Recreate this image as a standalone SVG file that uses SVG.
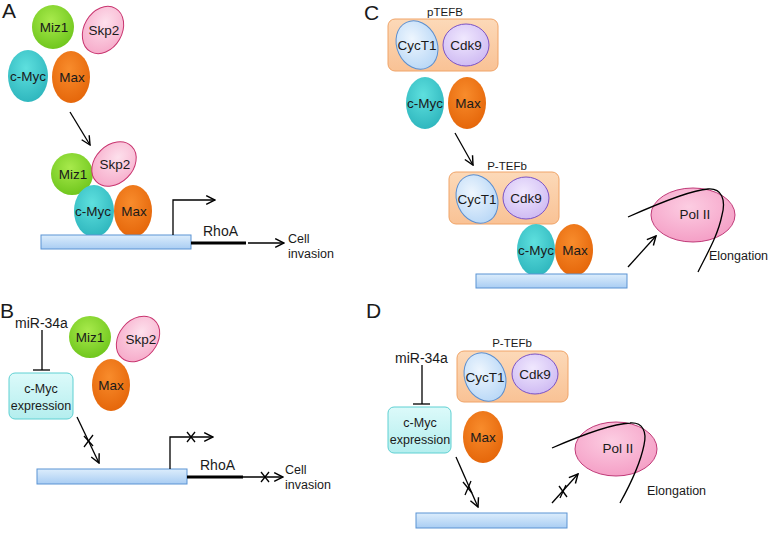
<svg xmlns="http://www.w3.org/2000/svg" width="771" height="535" viewBox="0 0 771 535">
<defs>
<radialGradient id="gMiz" cx="0.45" cy="0.35" r="0.7"><stop offset="0" stop-color="#a8ea4c"/><stop offset="1" stop-color="#6cc41a"/></radialGradient>
<radialGradient id="gSkp" cx="0.45" cy="0.35" r="0.7"><stop offset="0" stop-color="#fde0ec"/><stop offset="1" stop-color="#f6a8c8"/></radialGradient>
<radialGradient id="gMyc" cx="0.45" cy="0.35" r="0.7"><stop offset="0" stop-color="#5ee0de"/><stop offset="1" stop-color="#2cb4bc"/></radialGradient>
<radialGradient id="gMax" cx="0.45" cy="0.35" r="0.7"><stop offset="0" stop-color="#f88c2c"/><stop offset="1" stop-color="#e46408"/></radialGradient>
<radialGradient id="gCyc" cx="0.45" cy="0.35" r="0.7"><stop offset="0" stop-color="#eef6fe"/><stop offset="1" stop-color="#b6d6f6"/></radialGradient>
<radialGradient id="gCdk" cx="0.45" cy="0.35" r="0.7"><stop offset="0" stop-color="#f0e8fe"/><stop offset="1" stop-color="#cdb8f2"/></radialGradient>
<radialGradient id="gPol" cx="0.45" cy="0.35" r="0.7"><stop offset="0" stop-color="#fccde2"/><stop offset="1" stop-color="#f49cc4"/></radialGradient>
<linearGradient id="gDna" x1="0" y1="0" x2="0" y2="1"><stop offset="0" stop-color="#dcedfc"/><stop offset="1" stop-color="#a9cdf3"/></linearGradient>
<linearGradient id="gBox" x1="0" y1="0" x2="0" y2="1"><stop offset="0" stop-color="#fcd9b8"/><stop offset="1" stop-color="#f9c295"/></linearGradient>
<linearGradient id="gExp" x1="0" y1="0" x2="0" y2="1"><stop offset="0" stop-color="#dcfafa"/><stop offset="1" stop-color="#b4eeee"/></linearGradient>
<marker id="ah" viewBox="0 0 10 10" refX="9" refY="5" markerWidth="11" markerHeight="11" orient="auto" markerUnits="userSpaceOnUse"><path d="M1,1 L9,5 L1,9" fill="none" stroke="#000" stroke-width="1.3"/></marker>
<style>
text{font-family:"Liberation Sans",Arial,sans-serif;fill:#1a1a1a}
.p{font-size:13.5px;text-anchor:middle}
.lab{font-size:21px}
.t{font-size:14px}
.s{font-size:12.5px}
.miz{fill:url(#gMiz)}
.skp{fill:url(#gSkp);stroke:#c8336e;stroke-width:1}
.myc{fill:url(#gMyc)}
.max{fill:url(#gMax)}
.cyc{fill:url(#gCyc);stroke:#5b8fd0;stroke-width:1}
.cdk{fill:url(#gCdk);stroke:#7a52c6;stroke-width:1}
.pol{fill:url(#gPol);stroke:#c03a78;stroke-width:1}
.dna{fill:url(#gDna);stroke:#5b93d3;stroke-width:1}
.box{fill:url(#gBox);stroke:#f0a468;stroke-width:1}
.exp{fill:url(#gExp);stroke:#5fd0d2;stroke-width:1}
.ln{fill:none;stroke:#000;stroke-width:1.3}
.arr{fill:none;stroke:#000;stroke-width:1.3;marker-end:url(#ah)}
.thick{stroke:#000;stroke-width:3}
</style>
</defs>

<!-- Panel labels -->
<text class="lab" x="2" y="18">A</text>
<text class="lab" x="0" y="318">B</text>
<text class="lab" x="364" y="20">C</text>
<text class="lab" x="366" y="318">D</text>

<!-- ===== Panel A ===== -->
<g id="A-miz1-top"><ellipse class="miz" cx="53" cy="27" rx="21" ry="22"/><text class="p" x="54" y="32">Miz1</text></g>
<g id="A-skp2-top"><ellipse class="skp" cx="103" cy="30" rx="19" ry="25" transform="rotate(30 103 30)"/><text class="p" x="104" y="35">Skp2</text></g>
<g id="A-cmyc-top"><ellipse class="myc" cx="28" cy="76" rx="20" ry="26"/><text class="p" x="28" y="81">c-Myc</text></g>
<g id="A-max-top"><ellipse class="max" cx="71" cy="77" rx="19" ry="26"/><text class="p" x="72" y="82">Max</text></g>

<g id="A-miz1"><ellipse class="miz" cx="72" cy="174" rx="21" ry="21"/><text class="p" x="73" y="179">Miz1</text></g>
<g id="A-cmyc"><ellipse class="myc" cx="94" cy="211" rx="20" ry="26"/><text class="p" x="93" y="216">c-Myc</text></g>
<g id="A-max"><ellipse class="max" cx="133" cy="211" rx="19" ry="26"/><text class="p" x="134" y="216">Max</text></g>
<g id="A-skp2"><ellipse class="skp" cx="114" cy="164" rx="19" ry="25" transform="rotate(45 114 164)"/><text class="p" x="115" y="169">Skp2</text></g>
<g id="A-dna"><rect class="dna" x="41" y="235" width="150" height="14"/></g>
<g id="A-rhoa"><line class="thick" x1="191" y1="243" x2="246" y2="243"/><text class="t" x="203" y="236">RhoA</text></g>
<g id="A-cell"><text class="s" x="288" y="243">Cell</text><text class="s" x="288" y="258">invasion</text></g>

<!-- ===== Panel B ===== -->
<g id="B-mir"><text class="t" x="15" y="328">miR-34a</text></g>
<g id="B-exp"><rect class="exp" x="9" y="373" width="64" height="46" rx="6"/><text class="p" style="font-size:12.5px" x="41" y="393">c-Myc</text><text class="p" style="font-size:12.5px" x="41" y="410">expression</text></g>
<g id="B-miz1"><ellipse class="miz" cx="90" cy="337" rx="21" ry="21"/><text class="p" x="90" y="342">Miz1</text></g>
<g id="B-skp2"><ellipse class="skp" cx="138" cy="339" rx="19" ry="25" transform="rotate(40 138 339)"/><text class="p" x="141" y="344">Skp2</text></g>
<g id="B-max"><ellipse class="max" cx="111" cy="385" rx="19" ry="26"/><text class="p" x="111" y="390">Max</text></g>
<g id="B-dna"><rect class="dna" x="37" y="469" width="150" height="15"/></g>
<g id="B-rhoa"><line class="thick" x1="187" y1="477" x2="243" y2="477"/><text class="t" x="200" y="470">RhoA</text></g>
<g id="B-cell"><text class="s" x="285" y="474">Cell</text><text class="s" x="285" y="489">invasion</text></g>

<!-- ===== Panel C ===== -->
<g id="C-ptefb-top"><text class="p" style="font-size:11.5px" x="445" y="16">pTEFB</text>
<rect class="box" x="388" y="19" width="110" height="52" rx="7"/>
<ellipse class="cyc" cx="417" cy="45" rx="20" ry="25" transform="rotate(-25 417 45)"/><text class="p" x="417" y="50">CycT1</text>
<ellipse class="cdk" cx="466" cy="45" rx="23" ry="21"/><text class="p" x="466" y="50">Cdk9</text></g>
<g id="C-cmyc-top"><ellipse class="myc" cx="425" cy="103" rx="19" ry="26"/><text class="p" x="425" y="108">c-Myc</text></g>
<g id="C-max-top"><ellipse class="max" cx="467" cy="103" rx="19" ry="26"/><text class="p" x="468" y="108">Max</text></g>

<g id="C-ptefb"><text class="p" style="font-size:11.5px" x="507" y="170">P-TEFb</text>
<rect class="box" x="449" y="172" width="110" height="52" rx="7"/>
<ellipse class="cyc" cx="477" cy="199" rx="20" ry="25" transform="rotate(-25 477 199)"/><text class="p" x="477" y="204">CycT1</text>
<ellipse class="cdk" cx="526" cy="198" rx="23" ry="21"/><text class="p" x="526" y="203">Cdk9</text></g>
<g id="C-cmyc"><ellipse class="myc" cx="536" cy="250" rx="19" ry="26"/><text class="p" x="536" y="255">c-Myc</text></g>
<g id="C-max"><ellipse class="max" cx="574" cy="250" rx="19" ry="26"/><text class="p" x="575" y="255">Max</text></g>
<g id="C-dna"><rect class="dna" x="476" y="274" width="151" height="14"/></g>
<g id="C-pol"><ellipse class="pol" cx="693" cy="215" rx="42" ry="27"/><text class="p" x="695" y="219">Pol II</text></g>
<g id="C-elong"><text class="p" style="font-size:12.5px;text-anchor:start" x="709" y="260">Elongation</text></g>

<!-- ===== Panel D ===== -->
<g id="D-mir"><text class="t" x="395" y="363">miR-34a</text></g>
<g id="D-exp"><rect class="exp" x="388" y="407" width="63" height="46" rx="6"/><text class="p" style="font-size:12.5px" x="420" y="427">c-Myc</text><text class="p" style="font-size:12.5px" x="420" y="444">expression</text></g>
<g id="D-ptefb"><text class="p" style="font-size:11.5px" x="512" y="347">P-TEFb</text>
<rect class="box" x="457" y="351" width="111" height="51" rx="7"/>
<ellipse class="cyc" cx="485" cy="377" rx="20" ry="25" transform="rotate(-25 485 377)"/><text class="p" x="485" y="382">CycT1</text>
<ellipse class="cdk" cx="535" cy="374" rx="23" ry="20"/><text class="p" x="535" y="379">Cdk9</text></g>
<g id="D-max"><ellipse class="max" cx="483" cy="437" rx="20" ry="26"/><text class="p" x="483" y="442">Max</text></g>
<g id="D-dna"><rect class="dna" x="416" y="513" width="151" height="15"/></g>
<g id="D-pol"><ellipse class="pol" cx="616" cy="449" rx="41" ry="27"/><text class="p" x="618" y="453">Pol II</text></g>
<g id="D-elong"><text class="p" style="font-size:12.5px;text-anchor:start" x="647" y="495">Elongation</text></g>

<!-- ===== Connectors ===== -->
<g id="connectors">
<!-- A -->
<line class="arr" x1="70" y1="112" x2="90" y2="145"/>
<polyline class="arr" points="173,235 173,200 215,200"/>
<line class="arr" x1="248" y1="243" x2="284" y2="243"/>
<!-- B -->
<polyline class="ln" points="42,330 42,370"/>
<line class="ln" x1="33" y1="370" x2="50" y2="370"/>
<line class="arr" x1="77" y1="417" x2="99" y2="463"/>
<line class="ln" x1="84" y1="436" x2="93" y2="446"/>
<line class="ln" x1="93" y1="435" x2="84" y2="447"/>
<polyline class="arr" points="170,469 170,437 213,437"/>
<line class="ln" x1="187" y1="432" x2="195" y2="442"/>
<line class="ln" x1="195" y1="432" x2="187" y2="442"/>
<line class="arr" x1="243" y1="477" x2="283" y2="477"/>
<line class="ln" x1="261" y1="472" x2="269" y2="482"/>
<line class="ln" x1="269" y1="472" x2="261" y2="482"/>
<!-- C -->
<line class="arr" x1="455" y1="133" x2="473" y2="165"/>
<line class="arr" x1="628" y1="267" x2="656" y2="236"/>
<path class="ln" d="M628,217 C655,205 690,190 708,189 C722,188 726,200 722,215 C718,235 708,252 698,272"/>
<!-- D -->
<line class="ln" x1="422" y1="365" x2="422" y2="404"/>
<line class="ln" x1="413" y1="404" x2="430" y2="404"/>
<line class="arr" x1="456" y1="457" x2="478" y2="507"/>
<line class="ln" x1="463" y1="482" x2="472" y2="493"/>
<line class="ln" x1="471" y1="481" x2="465" y2="495"/>
<line class="arr" x1="552" y1="503" x2="578" y2="474"/>
<line class="ln" x1="559" y1="486" x2="567" y2="497"/>
<line class="ln" x1="566" y1="485" x2="560" y2="498"/>
<path class="ln" d="M552,448 C575,438 610,424 630,423 C643,422 647,432 644,445 C640,465 630,485 620,503"/>
</g>
</svg>
